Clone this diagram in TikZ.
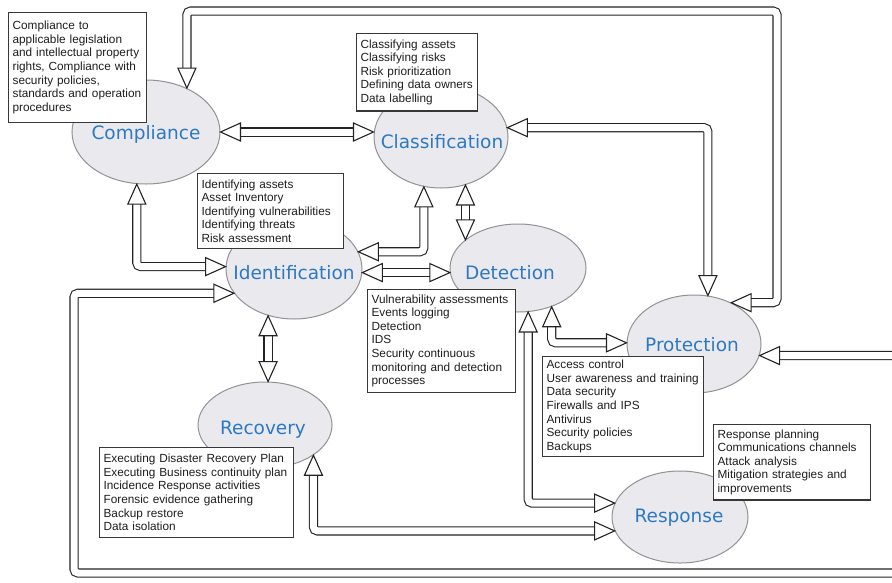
\documentclass[tikz,border=0pt]{standalone}
\usepackage{fontspec}
\setmainfont{Liberation Sans}
\newfontfamily\lblfont{DejaVu Sans}
\usetikzlibrary{shapes.geometric}
\definecolor{lblblue}{RGB}{45,120,195}
\definecolor{ellfill}{RGB}{234,234,238}
\definecolor{ellline}{RGB}{145,145,150}
\definecolor{boxline}{RGB}{55,55,55}
\definecolor{arrline}{RGB}{35,35,35}
\definecolor{txt}{RGB}{30,30,30}

\begin{document}
\begin{tikzpicture}[x=1pt,y=-1pt,
  phase/.style={ellipse, draw=ellline, line width=1pt, fill=ellfill, inner sep=0pt},
  lbl/.style={font=\lblfont\fontsize{18.5}{20}\selectfont, text=lblblue, inner sep=0pt},
  info/.style={draw=boxline, line width=1.2pt, fill=white, anchor=north west,
    align=left, inner xsep=4pt, font=\fontsize{11.8}{13.6}\selectfont, text=txt},
  shaft/.style={draw=arrline, line width=1.1pt, double=white, double distance=7pt,
    rounded corners=4pt, shorten <=19pt, shorten >=19pt},
  headst/.style={draw=arrline, line width=1.1pt, fill=white, line join=miter},
  hu/.pic={\draw[headst] (0,0) -- (-9,20) -- (9,20) -- cycle;},
  hd/.pic={\draw[headst] (0,0) -- (-9,-20) -- (9,-20) -- cycle;},
  hl/.pic={\draw[headst] (0,0) -- (20,-9) -- (20,9) -- cycle;},
  hr/.pic={\draw[headst] (0,0) -- (-20,-9) -- (-20,9) -- cycle;},
]
\useasboundingbox (0,0) rectangle (892,582);
\clip (0,0) rectangle (892,582);

% phases
\node[phase, minimum width=148pt, minimum height=104pt] (comp) at (146,132) {};
\node[phase, minimum width=134pt, minimum height=102pt] (clas) at (441,137) {};
\node[phase, minimum width=136pt, minimum height=100pt] (iden) at (294,269) {};
\node[phase, minimum width=136pt, minimum height=88pt]  (det)  at (518,268) {};
\node[phase, minimum width=134pt, minimum height=98pt]  (prot) at (694,344) {};
\node[phase, minimum width=134pt, minimum height=86pt]  (reco) at (265,425) {};
\node[phase, minimum width=136pt, minimum height=92pt]  (resp) at (680,517) {};

% arrow end points on the phase borders
\coordinate (t1a) at (comp.47);   \coordinate (t1b) at (prot.48);
\coordinate (t2a) at (clas.8);    \coordinate (t2b) at (prot.74);
\coordinate (t3a) at (clas.-63);  \coordinate (t3b) at (t3a |- det.152);
\coordinate (t4a) at (iden.15);   \coordinate (t4b) at (clas.-109);
\coordinate (t5a) at (iden.-3);   \coordinate (t5b) at (t5a -| det.-176);
\coordinate (t6a) at (comp.-100); \coordinate (t6b) at (iden.178);
\coordinate (t7a) at (iden.-158); \coordinate (t7b) at (prot.-10);
\coordinate (t8a) at (iden.-119); \coordinate (t8b) at (t8a |- reco.86);
\coordinate (t9a) at (reco.-32);  \coordinate (t9b) at (resp.-168);
\coordinate (t10a) at (det.-77);  \coordinate (t10b) at (resp.168);
\coordinate (t11a) at (det.-49);  \coordinate (t11b) at (prot.179);
\coordinate (loopTR) at (777,11);
\coordinate (loopBL) at (74,573);
\coordinate (loopBR) at (905,573);

% hollow double-line connectors
\draw[shaft] (t1a) |- (loopTR) |- (t1b);
\draw[shaft] (t2a) -| (t2b);
\draw[shaft] (t3a) -- (t3b);
\draw[shaft] (t4a) -| (t4b);
\draw[shaft] (t5a) -- (t5b);
\draw[shaft] (t6a) |- (t6b);
\draw[shaft] (t7a) -| (loopBL) -- (loopBR) |- (t7b);
\draw[shaft] (t8a) -- (t8b);
\draw[shaft] (t9a) |- (t9b);
\draw[shaft] (t10a) |- (t10b);
\draw[shaft] (t11a) |- (t11b);
\draw[shaft] (comp.east) -- (comp.east -| clas.west);

% arrow heads
\pic at (t1a) {hd};  \pic at (t1b) {hl};
\pic at (t2a) {hl};  \pic at (t2b) {hd};
\pic at (t3a) {hu};  \pic at (t3b) {hd};
\pic at (t4a) {hl};  \pic at (t4b) {hu};
\pic at (t5a) {hl};  \pic at (t5b) {hr};
\pic at (t6a) {hu};  \pic at (t6b) {hr};
\pic at (t7a) {hr};  \pic at (t7b) {hl};
\pic at (t8a) {hu};  \pic at (t8b) {hd};
\pic at (t9a) {hu};  \pic at (t9b) {hr};
\pic at (t10a) {hu}; \pic at (t10b) {hr};
\pic at (t11a) {hu}; \pic at (t11b) {hr};
\pic at (comp.east) {hl}; \pic at (comp.east -| clas.west) {hr};

% activity boxes
\node[info, text width=130pt, inner ysep=8.5pt] (compbox) at (8,12)
  {Compliance to\\applicable legislation\\and intellectual property\\rights, Compliance with\\security policies,\\standards and operation\\procedures};
\node[info, text width=113pt, inner ysep=6pt] (clasbox) at (356,33)
  {Classifying assets\\Classifying risks\\Risk prioritization\\Defining data owners\\Data labelling};
\node[info, text width=138pt, inner ysep=6pt] (idenbox) at (197,173)
  {Identifying assets\\Asset Inventory\\Identifying vulnerabilities\\Identifying threats\\Risk assessment};
\node[info, text width=140pt, inner ysep=5pt] (detbox) at (367,289)
  {Vulnerability assessments\\Events logging\\Detection\\IDS\\Security continuous\\monitoring and detection\\processes};
\node[info, text width=153pt, inner ysep=3.5pt] (protbox) at (542,356)
  {Access control\\User awareness and training\\Data security\\Firewalls and IPS\\Antivirus\\Security policies\\Backups};
\node[info, text width=149pt, inner ysep=5pt] (respbox) at (713,424)
  {Response planning\\Communications channels\\Attack analysis\\Mitigation strategies and\\improvements};
\node[info, text width=186pt, inner ysep=6.5pt] (recobox) at (99,447)
  {Executing Disaster Recovery Plan\\Executing Business continuity plan\\Incidence Response activities\\Forensic evidence gathering\\Backup restore\\Data isolation};

% phase names
\node[lbl] (compt) at (146,134) {Compliance};
\node[lbl] (clast) at (442,142) {Classification};
\node[lbl] (ident) at (294,273) {Identification};
\node[lbl] (dett)  at (510,273) {Detection};
\node[lbl] (prott) at (692,345) {Protection};
\node[lbl] (recot) at (263,430) {Recovery};
\node[lbl] (respt) at (679,518) {Response};
\end{tikzpicture}
\end{document}
